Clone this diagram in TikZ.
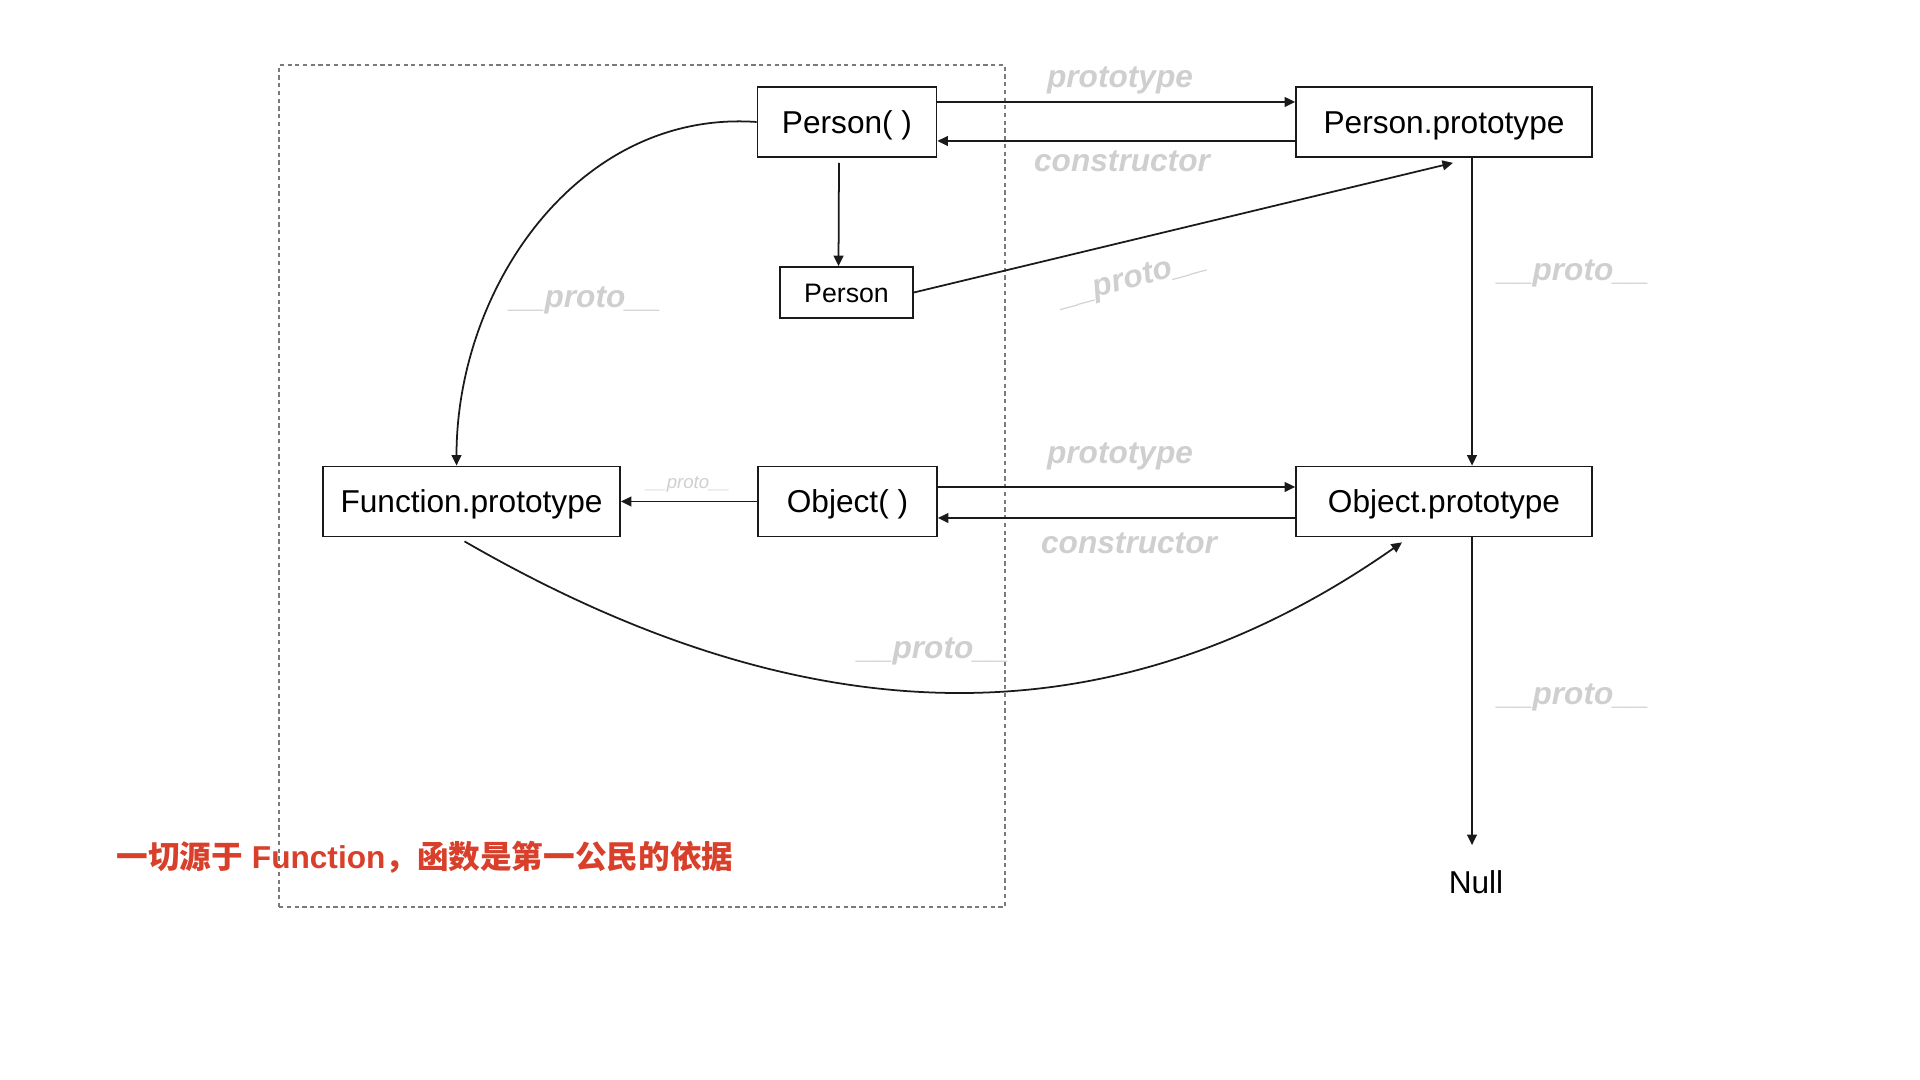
\documentclass[tikz,border=0pt]{standalone}
\usepackage{fontspec}
\setmainfont{Liberation Sans}
\newfontfamily\cjk{Noto Sans CJK SC}
\usetikzlibrary{arrows.meta}
\definecolor{cLinea}{HTML}{1A1A1A}
\definecolor{cMarco}{HTML}{7A7A7A}
\definecolor{cEtiq}{HTML}{CFCFCF}
\definecolor{cNota}{HTML}{D8402B}
\tikzset{
    x=1cm, y=1cm, font=\fontsize{9}{11}\selectfont,
    box/.style={draw=cLinea, line width=0.5pt, minimum height=0.7cm,
                inner sep=0pt, text height=6.5pt, text depth=0pt},
    frame/.style={draw=cMarco, line width=0.5pt,
                  dash pattern=on 1.2pt off 1pt},
    arr/.style={-{Triangle[length=3pt,width=2.8pt]}, line width=0.5pt,
                cLinea},
    lbl/.style={text=cEtiq, font=\fontsize{9}{11}\selectfont\bfseries\itshape,
                inner sep=1pt},
    tiny/.style={text=cEtiq, font=\fontsize{5.3}{6}\selectfont\itshape,
                 inner sep=1pt},
    note/.style={text=cNota, inner sep=0pt},
}

\begin{document}
\begin{tikzpicture}
    \useasboundingbox (0,0) rectangle (19.2,10.8);

    \draw[frame] (2.79,1.73) rectangle (10.05,10.15);

    \node[box, minimum width=1.79cm] (pfun) at (8.47,9.58) {Person( )};
    \node[box, minimum width=2.96cm] (pproto) at (14.44,9.58) {Person.prototype};
    \node[box, minimum width=1.33cm, minimum height=0.51cm, text height=5.5pt,
          font=\fontsize{7.6}{9}\selectfont] (pinst) at (8.465,7.875) {Person};
    \node[box, minimum width=2.97cm] (fproto) at (4.715,5.785) {Function.prototype};
    \node[box, minimum width=1.79cm] (ofun) at (8.475,5.785) {Object( )};
    \node[box, minimum width=2.96cm] (oproto) at (14.44,5.785) {Object.prototype};
    \node[inner sep=7pt] (null) at (14.76,1.98) {Null};

    % Person( ) y su prototipo
    \draw[arr] ([yshift=0.2cm]pfun.east) -- ([yshift=0.2cm]pproto.west);
    \draw[arr] ([yshift=-0.19cm]pproto.west) -- ([yshift=-0.19cm]pfun.east);
    \node[lbl] (lprot1) at (11.20,10.0) {prototype};
    \node[lbl] (lcons1) at (11.22,9.19) {constructor};

    \draw[arr] ([xshift=-0.08cm, yshift=-0.05cm]pfun.south)
        -- ([xshift=-0.08cm]pinst.north);
    \draw[arr] (pinst.east) -- ([xshift=0.09cm, yshift=-0.05cm]pproto.south);
    \node[lbl, rotate=15] (lpr1) at (11.33,8.0) {\_\_proto\_\_};

    \draw[arr] ([xshift=0.28cm]pproto.south) -- ([xshift=0.28cm]oproto.north);
    \node[lbl] (lpr2) at (15.73,8.07) {\_\_proto\_\_};

    \draw[arr] (pfun.west) to[out=176, in=90] ([xshift=-0.15cm]fproto.north);
    \node[lbl] (lpr3) at (5.85,7.80) {\_\_proto\_\_};

    % Object( ) y su prototipo
    \draw[arr] (ofun.west) -- (fproto.east);
    \node[tiny] (lpr4) at (6.88,5.96) {\_\_proto\_\_};
    \draw[arr] ([yshift=0.145cm]ofun.east) -- ([yshift=0.145cm]oproto.west);
    \draw[arr] ([yshift=-0.165cm]oproto.west) -- ([yshift=-0.165cm]ofun.east);
    \node[lbl] (lprot2) at (11.20,6.24) {prototype};
    \node[lbl] (lcons2) at (11.29,5.37) {constructor};

    \draw[arr] ([xshift=-0.07cm, yshift=-0.04cm]fproto.south)
        to[out=-30, in=-145, looseness=1.02] ([xshift=-0.42cm, yshift=-0.05cm]oproto.south);
    \node[lbl] (lpr5) at (9.33,4.29) {\_\_proto\_\_};

    \draw[arr] ([xshift=0.28cm]oproto.south) -- ([xshift=-0.04cm]null.north);
    \node[lbl] (lpr6) at (15.73,3.83) {\_\_proto\_\_};

    \node[note] (nota) at (4.25,2.23)
        {{\cjk\bfseries 一切源于} {\bfseries Function}{\cjk\bfseries ，函数是第一公民的依据}};
\end{tikzpicture}
\end{document}
